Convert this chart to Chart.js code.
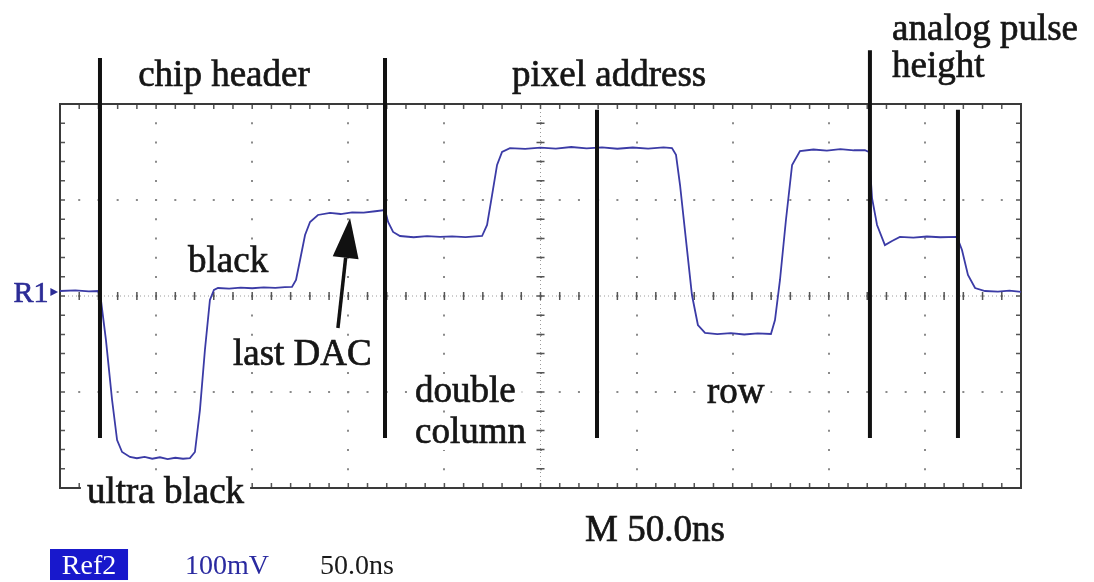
<!DOCTYPE html>
<html>
<head>
<meta charset="utf-8">
<script src="https://cdn.jsdelivr.net/npm/chart.js@4.4.0/dist/chart.umd.min.js"></script>
<style>
html,body{margin:0;padding:0;background:#fff;}
canvas{display:block;}
</style>
</head>
<body>
<canvas id="scope" width="1094" height="582"></canvas>
<script>
// Ref2 trace: time in ns (50ns/div), level in mV (100mV/div)
const timeNs=[0,8,15,19.8,21.3,23.9,27.1,29.7,32.3,36.4,40,44,48,52,56,60,64,67.6,70.2,72.8,75.4,78,80.1,82.2,88,94,100,106,112,117,120.7,122.8,124.9,127.5,130.1,134.2,140.5,146,152,158,164,169.1,170.7,173.3,176.9,184,191,197.7,204,211,219.6,222.2,224.8,227.4,230,234.1,242,250,258,266,274,282,290,298,306,314,318.4,320.5,322.6,325.7,328.8,331.9,335.6,342,349,356,363,369.9,372,374.6,377.7,380.9,385,392,399,406,413,418.8,420.9,422.5,425.1,429.2,432.9,437,444,451,458,466.7,469.3,472.4,476.1,481.3,488,494,500];
const voltMv=[5.2,5.8,4.9,5.2,-4.2,-45.8,-108.3,-150,-162.5,-167.7,-169,-167.5,-169.5,-168,-170,-168.5,-169.5,-168.8,-162.5,-118.8,-56.3,-4.2,6.3,8.3,7.6,8.8,8.1,8.9,8.4,9.2,9.4,16.7,37.5,63.5,77.1,84.4,86.5,85.4,87.2,86.8,88.3,89.6,77.1,66.7,62.5,61.2,62.4,61.5,62.1,61.3,62.5,74,105,136.5,150,154,153.2,154.6,153.5,155.2,153.8,154.9,153.4,154.7,153.6,154.8,154,147,115.6,58.3,1,-30.2,-38.5,-39.8,-38.6,-40.1,-39,-39.6,-25,16.7,79.2,136.5,151,152.6,151.5,153,151.8,152,150,102,74,53,57.3,61.5,60.8,62,61.2,61.5,48,22,8.3,5.2,4.5,5.6,4.2];

// black marker bars: position and vertical extent, mV
const markerNs=[20.8,169.1,279.4,421.4,467.2];
const markerTopMv=[248,248,194,256,194];
const markerBottomMv=-148;

// arrow pointing at the last DAC level
const arrowFrom={x:144.6,y:-33.3};
const arrowTo={x:150.9,y:81.3};

const notes=[
{text:"chip header",x:85.3,y:219,align:"center"},
{text:"pixel address",x:285.7,y:219,align:"center"},
{text:"analog pulse",x:432.9,y:266.7},
{text:"height",x:432.9,y:228},
{text:"black",x:66.6,y:25,bg:true},
{text:"last DAC",x:90,y:-71.9,bg:true},
{text:"double",x:184.7,y:-110.4,bg:true},
{text:"column",x:184.7,y:-153.1,bg:true},
{text:"row",x:336.6,y:-111.5,bg:true},
{text:"ultra black",x:14,y:-215.6,bg:true},
{text:"M 50.0ns",x:273.2,y:-255.2,bg:true}
];

const SERIF='"Liberation Serif","DejaVu Serif",serif';

function isMajor(v,step){
return Math.abs(v/step-Math.round(v/step))<1e-6;
}

function heavyText(ctx,s,px,py,color){
ctx.fillStyle=color;
ctx.strokeStyle=color;
ctx.lineWidth=0.7;
ctx.fillText(s,px,py);
ctx.strokeText(s,px,py);
}

const graticule={
id:"graticule",
beforeDatasetsDraw(chart){
const {ctx,chartArea:a,scales:{x,y}}=chart;
ctx.save();
// center cross, dense dots
ctx.strokeStyle="#9a9a9a";
ctx.lineWidth=1;
ctx.setLineDash([1,3]);
const cx=x.getPixelForValue(250),cy=y.getPixelForValue(0);
ctx.beginPath();
ctx.moveTo(cx,a.top);ctx.lineTo(cx,a.bottom);
ctx.moveTo(a.left,cy);ctx.lineTo(a.right,cy);
ctx.stroke();
ctx.setLineDash([]);
// minor ticks on center cross and border
ctx.strokeStyle="#555";
ctx.lineWidth=1.5;
ctx.beginPath();
x.ticks.forEach(t=>{
const px=x.getPixelForValue(t.value);
ctx.moveTo(px,cy-4);ctx.lineTo(px,cy+4);
ctx.moveTo(px,a.top);ctx.lineTo(px,a.top+5);
ctx.moveTo(px,a.bottom);ctx.lineTo(px,a.bottom-5);
});
y.ticks.forEach(t=>{
const py=y.getPixelForValue(t.value);
ctx.moveTo(cx-4,py);ctx.lineTo(cx+4,py);
ctx.moveTo(a.left,py);ctx.lineTo(a.left+5,py);
ctx.moveTo(a.right,py);ctx.lineTo(a.right-5,py);
});
ctx.stroke();
// frame
ctx.strokeStyle="#3a3a3a";
ctx.lineWidth=2;
ctx.strokeRect(a.left,a.top,a.right-a.left,a.bottom-a.top);
ctx.restore();
},
afterDatasetsDraw(chart){
const {ctx,scales:{x,y}}=chart;
ctx.save();
// marker bars
ctx.strokeStyle="#111";
ctx.lineWidth=4;
ctx.beginPath();
markerNs.forEach((t,i)=>{
const px=x.getPixelForValue(t);
ctx.moveTo(px,y.getPixelForValue(markerTopMv[i]));
ctx.lineTo(px,y.getPixelForValue(markerBottomMv));
});
ctx.stroke();
// arrow
const x1=x.getPixelForValue(arrowFrom.x),y1=y.getPixelForValue(arrowFrom.y);
const x2=x.getPixelForValue(arrowTo.x),y2=y.getPixelForValue(arrowTo.y);
const ang=Math.atan2(y2-y1,x2-x1);
const hl=40,hw=13;
const bx=x2-hl*Math.cos(ang),by=y2-hl*Math.sin(ang);
ctx.lineWidth=3.5;
ctx.beginPath();
ctx.moveTo(x1,y1);ctx.lineTo(bx,by);
ctx.stroke();
ctx.fillStyle="#111";
ctx.beginPath();
ctx.moveTo(x2,y2);
ctx.lineTo(bx+hw*Math.sin(ang),by-hw*Math.cos(ang));
ctx.lineTo(bx-hw*Math.sin(ang),by+hw*Math.cos(ang));
ctx.closePath();
ctx.fill();
// text notes
ctx.font="37px "+SERIF;
ctx.textBaseline="alphabetic";
notes.forEach(n=>{
const px=x.getPixelForValue(n.x),py=y.getPixelForValue(n.y);
ctx.textAlign=n.align||"left";
const w=ctx.measureText(n.text).width;
const left=n.align==="center"?px-w/2:px;
if(n.bg){
ctx.fillStyle="#fff";
ctx.fillRect(left-6,py-27,w+12,34);
}
heavyText(ctx,n.text,px,py,"#161616");
});
// R1 reference marker
const r1y=y.getPixelForValue(4.2);
ctx.font="30px "+SERIF;
ctx.textAlign="right";
heavyText(ctx,"R1",x.getPixelForValue(-6),r1y+10,"#2c2c96");
ctx.fillStyle="#2c2c96";
ctx.beginPath();
ctx.moveTo(x.getPixelForValue(-1),r1y);
ctx.lineTo(x.getPixelForValue(-5),r1y-4);
ctx.lineTo(x.getPixelForValue(-5),r1y+4);
ctx.closePath();
ctx.fill();
// status line under the screen
const sy=y.getPixelForValue(-289.6);
ctx.font="28px "+SERIF;
const bl=x.getPixelForValue(-5.2),br=x.getPixelForValue(35.4);
ctx.fillStyle="#1818cc";
ctx.fillRect(bl,sy-25,br-bl,31);
ctx.textAlign="center";
ctx.fillStyle="#fff";
ctx.fillText("Ref2",(bl+br)/2,sy);
ctx.textAlign="left";
ctx.fillStyle="#2a2aa0";
ctx.fillText("100mV",x.getPixelForValue(65),sy);
ctx.fillStyle="#1a1a1a";
ctx.fillText("50.0ns",x.getPixelForValue(135.3),sy);
ctx.restore();
}
};

new Chart(document.getElementById("scope"),{
type:"line",
data:{
datasets:[{
data:timeNs.map((t,i)=>({x:t,y:voltMv[i]})),
borderColor:"#3b3ba6",
borderWidth:1.8,
pointRadius:0,
tension:0
}]
},
options:{
responsive:false,
animation:false,
devicePixelRatio:1,
layout:{padding:{left:60,top:104,right:73,bottom:94}},
plugins:{legend:{display:false},tooltip:{enabled:false}},
scales:{
x:{
type:"linear",min:0,max:500,
ticks:{display:false,stepSize:10},
grid:{
color:c=>isMajor(c.tick.value,50)?"#8a8a8a":"rgba(0,0,0,0)",
lineWidth:2,drawTicks:false
},
border:{display:false,dash:[2,17.22],dashOffset:1}
},
y:{
type:"linear",min:-200,max:200,
ticks:{display:false,stepSize:20},
grid:{
color:c=>isMajor(c.tick.value,100)?"#8a8a8a":"rgba(0,0,0,0)",
lineWidth:2,drawTicks:false
},
border:{display:false,dash:[2,17.22],dashOffset:1}
}
}
},
plugins:[graticule]
});
</script>
</body>
</html>
